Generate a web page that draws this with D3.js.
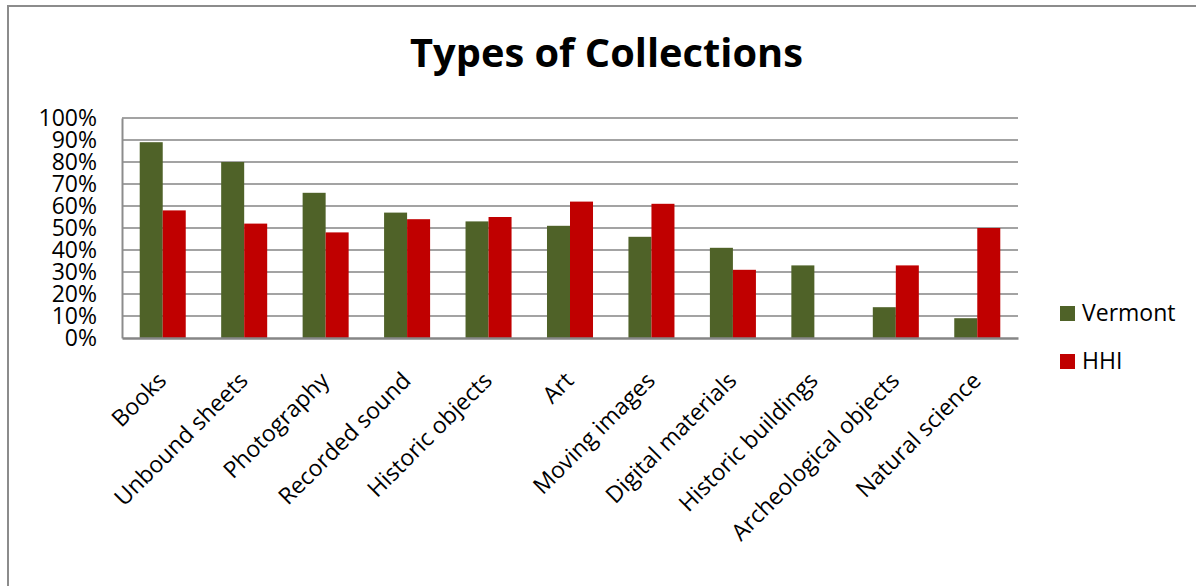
<!DOCTYPE html>
<html>
<head>
<meta charset="utf-8">
<script src="https://cdn.jsdelivr.net/npm/d3@7"></script>
<style>
  html, body { margin: 0; padding: 0; background: #fff; }
  svg { display: block; }
  text { font-family: "Open Sans", "Noto Sans", sans-serif; fill: #000; }
</style>
</head>
<body>
<svg id="chart" width="1196" height="586"></svg>
<script>
const categories = ["Books", "Unbound sheets", "Photography", "Recorded sound", "Historic objects", "Art", "Moving images", "Digital materials", "Historic buildings", "Archeological objects", "Natural science"];
const seriesNames = ["Vermont", "HHI"];
const vermont = [0.89, 0.80, 0.66, 0.57, 0.53, 0.51, 0.46, 0.41, 0.33, 0.14, 0.09];
const hhi = [0.58, 0.52, 0.48, 0.54, 0.55, 0.62, 0.61, 0.31, 0.00, 0.33, 0.50];
const yTicks = [0, 0.1, 0.2, 0.3, 0.4, 0.5, 0.6, 0.7, 0.8, 0.9, 1.0];
const colors = ["#4F6228", "#C00000"];
const title = "Types of Collections";

const svg = d3.select("#chart");
const W = 1196, H = 586;
const plot = { left: 122, right: 1018, top: 118, bottom: 338 };

// outer chart border
svg.append("path")
  .attr("d", `M8,${H} L8,6 L${W},6`)
  .attr("fill", "none").attr("stroke", "#8c8c8c").attr("stroke-width", 2);

// title
const t = svg.append("text")
  .attr("x", 606.5).attr("y", 67)
  .attr("text-anchor", "middle")
  .attr("font-weight", "bold")
  .attr("font-size", 34)
  .text(title);
const tw = t.node().getComputedTextLength();
t.attr("font-size", 34 * 393 / tw);

const x = d3.scaleBand().domain(categories).range([plot.left, plot.right])
  .paddingInner(0.435).paddingOuter(0.2175);
const xs = d3.scaleBand().domain(seriesNames).range([0, x.bandwidth()]);
const y = d3.scaleLinear().domain([0, 1]).range([plot.bottom, plot.top]);

// gridlines
svg.append("g").selectAll("line").data(yTicks.filter(d => d > 0)).join("line")
  .attr("x1", plot.left).attr("x2", plot.right)
  .attr("y1", d => y(d)).attr("y2", d => y(d))
  .attr("stroke", "#a3a3a3").attr("stroke-width", 2);

// y axis
const yAxis = svg.append("g")
  .attr("transform", `translate(${plot.left},0)`)
  .call(d3.axisLeft(y).tickValues(yTicks).tickFormat(d3.format(".0%")).tickSize(0).tickPadding(25));
yAxis.select(".domain").attr("stroke", "#8c8c8c").attr("stroke-width", 2);
yAxis.selectAll("text").attr("font-size", 23).attr("font-family", "Open Sans").attr("fill", "#000");

// bars
const rows = categories.map((c, i) => ({ cat: c, vals: [vermont[i], hhi[i]] }));
const groups = svg.append("g").selectAll("g").data(rows).join("g")
  .attr("transform", d => `translate(${x(d.cat)},0)`);
groups.selectAll("rect").data(d => d.vals.map((v, j) => ({ name: seriesNames[j], v, j })))
  .join("rect")
  .attr("x", d => xs(d.name))
  .attr("width", xs.bandwidth())
  .attr("y", d => y(d.v))
  .attr("height", d => y(0) - y(d.v))
  .attr("fill", d => colors[d.j]);

// x axis
const xAxis = svg.append("g")
  .attr("transform", `translate(0,${plot.bottom})`)
  .call(d3.axisBottom(x).tickSize(0).tickFormat(() => ""));
xAxis.select(".domain").attr("stroke", "#868686").attr("stroke-width", 2.5);

// x labels
svg.append("g").selectAll("text").data(categories).join("text")
  .attr("font-size", 23)
  .attr("text-anchor", "end")
  .attr("transform", d => `translate(${x(d) + x.bandwidth() / 2 + 5},${plot.bottom + 44}) rotate(-45)`)
  .text(d => d);

// legend
const legend = svg.append("g").selectAll("g").data(seriesNames).join("g")
  .attr("transform", (d, i) => `translate(1060,${306 + i * 48})`);
legend.append("rect").attr("width", 15).attr("height", 15)
  .attr("fill", (d, i) => colors[i]);
legend.append("text").attr("x", 22).attr("y", 15)
  .attr("font-size", 23).text(d => d);
</script>
</body>
</html>
